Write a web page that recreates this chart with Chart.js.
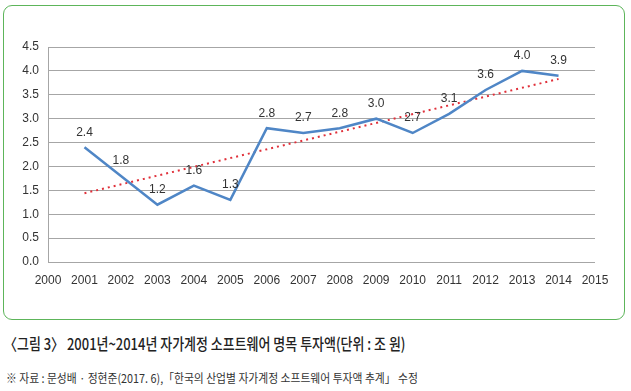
<!DOCTYPE html>
<html>
<head>
<meta charset="utf-8">
<script src="https://cdn.jsdelivr.net/npm/chart.js@4/dist/chart.umd.min.js"></script>
<style>
  body { margin: 0; background: #fff; width: 631px; height: 391px; overflow: hidden; position: relative; }
  .box { position: absolute; left: 3px; top: 5px; width: 620px; height: 313px; border: 1.5px solid #5db55a; border-radius: 9px; }
  .wrap { position: absolute; left: 0; top: 0; width: 631px; height: 330px; }
  .caption { position: absolute; left: 4px; top: 333px; font-family: "Noto Sans CJK KR", sans-serif; font-size: 16px; font-weight: 500; color: #222; white-space: nowrap; transform: scaleX(0.81); transform-origin: left top; line-height: 21px; }
  .source { position: absolute; left: 6px; top: 370px; font-family: "Noto Sans CJK KR", sans-serif; font-size: 12px; color: #333; white-space: nowrap; transform: scaleX(0.9); transform-origin: left top; line-height: 16px; }
</style>
</head>
<body>
<div class="box"></div>
<div class="wrap"><canvas id="chart"></canvas></div>
<div class="caption">〈그림 3〉 2001년~2014년 자가계정 소프트웨어 명목 투자액(단위 : 조 원)</div>
<div class="source">※ 자료 : 문성배 · 정현준(2017. 6),「한국의 산업별 자가계정 소프트웨어 투자액 추계」 수정</div>
<script>
var years = [2001, 2002, 2003, 2004, 2005, 2006, 2007, 2008, 2009, 2010, 2011, 2012, 2013, 2014];
var values = [2.4, 1.8, 1.2, 1.6, 1.3, 2.8, 2.7, 2.8, 3.0, 2.7, 3.1, 3.6, 4.0, 3.9];
// trend line ends
var trendYears = [2001, 2014];
var trendValues = [1.44, 3.83];
var yTicks = [0, 0.5, 1, 1.5, 2, 2.5, 3, 3.5, 4, 4.5];

var narrow = '"Liberation Sans Narrow", "Liberation Sans", Arial, sans-serif';

// value labels above the blue line
var valueLabels = {
    id: 'valueLabels',
    afterDatasetsDraw: function(chart) {
        var ctx = chart.ctx;
        var meta = chart.getDatasetMeta(0);
        ctx.save();
        ctx.font = '12px ' + narrow;
        ctx.fillStyle = '#333';
        ctx.textAlign = 'center';
        ctx.textBaseline = 'middle';
        meta.data.forEach(function(pt, i) {
            ctx.fillText(values[i].toFixed(1), pt.x, pt.y - 15);
        });
        ctx.restore();
    }
};

new Chart('chart', {
    type: 'line',
    data: {
        datasets: [{
            data: years.map(function(y, i) { return {x: y, y: values[i]}; }),
            borderColor: '#4f86c6',
            borderWidth: 2.5,
            pointRadius: 0,
            tension: 0
        }, {
            data: trendYears.map(function(y, i) { return {x: y, y: trendValues[i]}; }),
            borderColor: '#e0303a',
            borderWidth: 2,
            borderDash: [2, 4],
            pointRadius: 0
        }]
    },
    options: {
        responsive: true,
        maintainAspectRatio: false,
        animation: false,
        layout: { padding: { top: 47, left: 0, right: 36, bottom: 38 } },
        plugins: {
            legend: { display: false },
            tooltip: { enabled: false }
        },
        scales: {
            x: {
                type: 'linear',
                min: 2000,
                max: 2015,
                grid: { display: false, drawTicks: false },
                border: { display: false },
                ticks: {
                    stepSize: 1,
                    padding: 11,
                    color: '#333',
                    font: { family: narrow, size: 12 },
                    maxRotation: 0,
                    autoSkip: false,
                    callback: function(v) { return String(v); }
                },
                afterFit: function(s) { s.height = 30; }
            },
            y: {
                min: 0,
                max: 4.5,
                afterBuildTicks: function(s) { s.ticks = yTicks.map(function(v) { return {value: v}; }); },
                grid: { color: '#a6a6a6', lineWidth: 1, drawTicks: false },
                border: { display: true, color: '#a6a6a6' },
                ticks: {
                    padding: 9,
                    color: '#333',
                    font: { family: narrow, size: 12 },
                    callback: function(v) { return v.toFixed(1); }
                },
                afterFit: function(s) { s.width = 48; }
            }
        }
    },
    plugins: [valueLabels]
});
</script>
</body>
</html>
